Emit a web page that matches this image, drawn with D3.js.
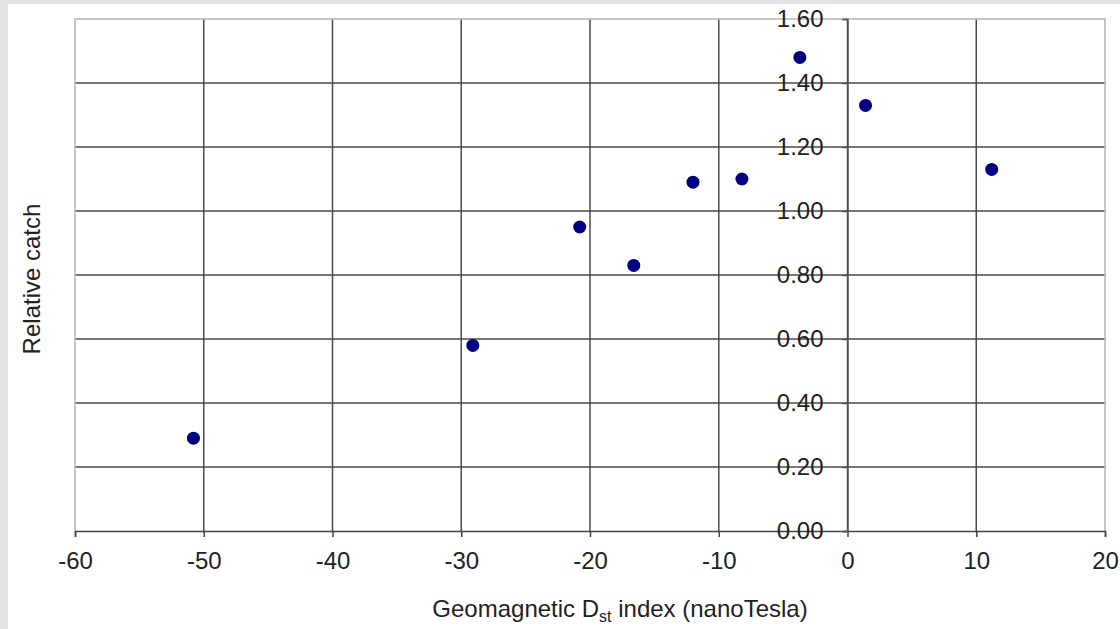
<!DOCTYPE html>
<html>
<head>
<meta charset="utf-8">
<script src="https://cdn.jsdelivr.net/npm/d3@7"></script>
<style>
  html, body { margin: 0; padding: 0; background: #e3e3e3; }
  svg { display: block; font-family: "Liberation Sans", Arial, sans-serif; }
</style>
</head>
<body>
<svg id="chart" width="1120" height="629"></svg>
<script>
// Dst index (nT) and relative catch
const dstValues = [-50.8, -29.1, -20.8, -16.6, -12.0, -8.2, -3.7, 1.4, 11.2];
const catchValues = [0.29, 0.58, 0.95, 0.83, 1.09, 1.10, 1.48, 1.33, 1.13];
const xTicks = [-60, -50, -40, -30, -20, -10, 0, 10, 20];
const yTicks = [0, 0.2, 0.4, 0.6, 0.8, 1.0, 1.2, 1.4, 1.6];

const svg = d3.select('#chart');

// white panel (gray shows only at left and top edges)
svg.append('rect')
  .attr('x', 8).attr('y', 4)
  .attr('width', 1112).attr('height', 625)
  .attr('fill', '#ffffff');

const x = d3.scaleLinear().domain([-60, 20]).range([75, 1105]);
const y = d3.scaleLinear().domain([0, 1.6]).range([531, 19]);

// horizontal grid
svg.append('g')
  .selectAll('line')
  .data(yTicks.slice(1, -1))
  .join('line')
  .attr('x1', x(-60)).attr('x2', x(20))
  .attr('y1', d => y(d)).attr('y2', d => y(d))
  .attr('stroke', '#4a4a4a').attr('stroke-width', 1.5);

// vertical grid
svg.append('g')
  .selectAll('line')
  .data(xTicks.slice(1, -1))
  .join('line')
  .attr('x1', d => x(d)).attr('x2', d => x(d))
  .attr('y1', y(0)).attr('y2', y(1.6))
  .attr('stroke', '#4a4a4a').attr('stroke-width', 1.5);

// outer frame (lighter)
svg.append('path')
  .attr('d', `M${x(-60)},${y(0)}V${y(1.6)}H${x(20)}V${y(0)}`)
  .attr('fill', 'none')
  .attr('stroke', '#b4b4b4').attr('stroke-width', 1.5);

// x axis along y=0
const xAxis = svg.append('g')
  .attr('transform', `translate(0,${y(0)})`)
  .call(d3.axisBottom(x).tickValues(xTicks).tickSize(6).tickPadding(15).tickFormat(d => String(d)));
xAxis.select('.domain').attr('stroke', '#444').attr('stroke-width', 1.5);
xAxis.selectAll('.tick line').attr('stroke', '#444').attr('stroke-width', 1.5);
xAxis.selectAll('text')
  .attr('font-size', 24).attr('fill', '#222')
  .attr('font-family', '"Liberation Sans", Arial, sans-serif');

// y axis along x=0
const yAxis = svg.append('g')
  .attr('transform', `translate(${x(0)},0)`)
  .call(d3.axisLeft(y).tickValues(yTicks).tickSize(5).tickPadding(19).tickFormat(d3.format('.2f')));
yAxis.select('.domain').attr('stroke', '#555').attr('stroke-width', 1.5);
yAxis.selectAll('.tick line').attr('stroke', '#555').attr('stroke-width', 1.5);
yAxis.selectAll('text')
  .attr('font-size', 24).attr('fill', '#222')
  .attr('font-family', '"Liberation Sans", Arial, sans-serif');

// points
svg.append('g')
  .selectAll('circle')
  .data(dstValues.map((d, i) => [d, catchValues[i]]))
  .join('circle')
  .attr('cx', d => x(d[0]))
  .attr('cy', d => y(d[1]))
  .attr('r', 6.5)
  .attr('fill', '#000080');

// axis titles
const xTitle = svg.append('text')
  .attr('x', 620).attr('y', 617)
  .attr('text-anchor', 'middle')
  .attr('font-size', 24).attr('fill', '#222');
xTitle.append('tspan').text('Geomagnetic D');
xTitle.append('tspan').attr('font-size', 16).attr('dy', 5).text('st');
xTitle.append('tspan').attr('dy', -5).text(' index (nanoTesla)');

svg.append('text')
  .attr('transform', 'translate(40,279) rotate(-90)')
  .attr('text-anchor', 'middle')
  .attr('font-size', 24).attr('fill', '#222')
  .text('Relative catch');
</script>
</body>
</html>
